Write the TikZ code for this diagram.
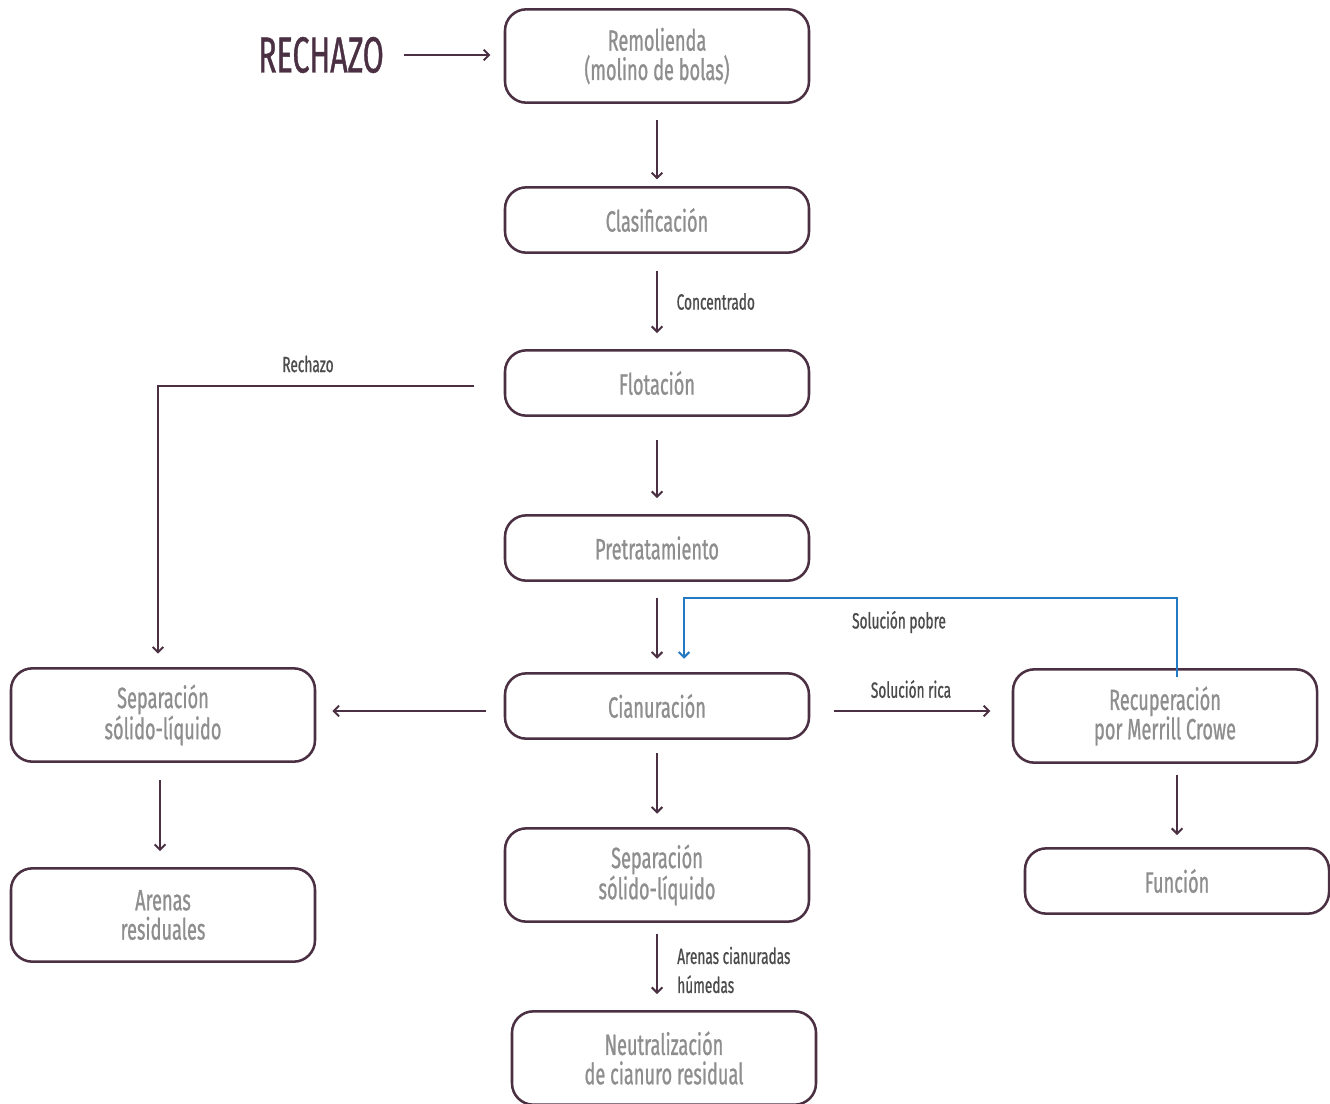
\documentclass[tikz,border=0pt]{standalone}
\usepackage{fontspec}
\setmainfont{Fira Sans}[FakeStretch=0.62,FakeBold=0.8]
\usetikzlibrary{arrows.meta,calc}
\definecolor{plum}{HTML}{4A3042}
\definecolor{boxtext}{HTML}{8E8E8E}
\definecolor{labeltext}{HTML}{4B4B4B}
\definecolor{loopblue}{HTML}{2479C4}
\begin{document}
\begin{tikzpicture}[x=0.75pt,y=-0.75pt,
  stepbox/.style={draw=plum,line width=1.9pt,rounded corners=16pt,
    minimum width=228pt,align=center,text=boxtext,
    font=\fontsize{22}{22}\selectfont,inner sep=0pt},
  tall/.style={stepbox,minimum height=70pt},
  flat/.style={stepbox,minimum height=49pt},
  flow/.style={draw=plum,line width=1.5pt,-{Straight Barb[length=4pt,width=8pt,line width=1.5pt]}},
  lbl/.style={text=labeltext,font=\fontsize{16.5}{21.75}\selectfont,inner sep=0pt}]
\useasboundingbox (0,0) rectangle (1330,1103);

% process steps
\node[tall] (remo) at (657,56) {Remolienda\\(molino de bolas)};
\node[flat] (clas) at (657,220) {Clasificación};
\node[flat] (flot) at (657,383) {Flotación};
\node[flat] (pret) at (657,548) {Pretratamiento};
\node[flat] (cian) at (657,706) {Cianuración};
\node[tall] (sepc) at (657,875) {Separación\\sólido-líquido};
\node[tall] (neut) at (664,1058) {Neutralización\\de cianuro residual};
\node[tall] (sepl) at (163,715) {Separación\\sólido-líquido};
\node[tall] (aren) at (163,915) {Arenas\\residuales};
\node[tall] (recu) at (1165,716) {Recuperación\\por Merrill Crowe};
\node[flat] (func) at (1177,881) {Función};

% feed
\node[text=plum,font=\fontsize{38}{40}\selectfont,inner sep=0pt] (rech) at (321,55) {\addfontfeatures{FakeStretch=0.6}RECHAZO};

% main line
\draw[flow,shorten <=15pt,shorten >=10pt] (rech.east) -- (rech.east -| remo.west);
\draw[flow,shorten <=12pt,shorten >=5pt] (remo.south) -- (clas.north);
\draw[flow,shorten <=13pt,shorten >=12pt] (clas.south) -- (flot.north)
  node[lbl,anchor=west,pos=0.5,xshift=14pt] (conc) {Concentrado};
\draw[flow,shorten <=17pt,shorten >=12pt] (flot.south) -- (pret.north);
\draw[flow,shorten <=12pt,shorten >=10pt] (pret.south) -- (cian.north);
\draw[flow,shorten <=10pt,shorten >=10pt] (cian.south) -- (sepc.north);
\draw[flow,shorten <=8pt,shorten >=12pt] (sepc.south) -- (neut.north -| sepc.south);
\node[lbl,anchor=west,align=left] (arcn) at (677,970) {Arenas cianuradas\\húmedas};

% reject branch
\coordinate (rjs) at ([xshift=-22pt,yshift=-2pt]flot.west);
\draw[flow,shorten >=10pt] (rjs) -| (sepl.north -| 158,0);
\node[lbl] (rjl) at (308,364) {Rechazo};
\coordinate (cw) at ([yshift=-3.75pt]cian.west);
\draw[flow,shorten <=13pt,shorten >=12pt] (cw) -- (cw -| sepl.east);
\draw[flow,shorten <=13pt,shorten >=12pt] (sepl.south -| 160,0) -- (aren.north -| 160,0);

% rich solution
\coordinate (ce) at ([yshift=-3.75pt]cian.east);
\draw[flow,shorten <=18pt,shorten >=16pt] (ce) -- (ce -| recu.west)
  node[lbl,pos=0.5,above=9pt] (srica) {Solución rica};
\draw[flow,shorten <=8pt,shorten >=9pt] (recu.south -| func.north) -- (func.north);

% barren solution returned
\coordinate (bl2) at (684,598);
\draw[draw=loopblue,line width=1.5pt,-{Straight Barb[length=4pt,width=8pt,line width=1.5pt]},shorten >=10pt]
  (recu.north -| func.north) ++(0,-7pt) |- (bl2) -- (bl2 |- cian.north);
\node[lbl] (spob) at (899,622) {Solución pobre};
\end{tikzpicture}
\end{document}
